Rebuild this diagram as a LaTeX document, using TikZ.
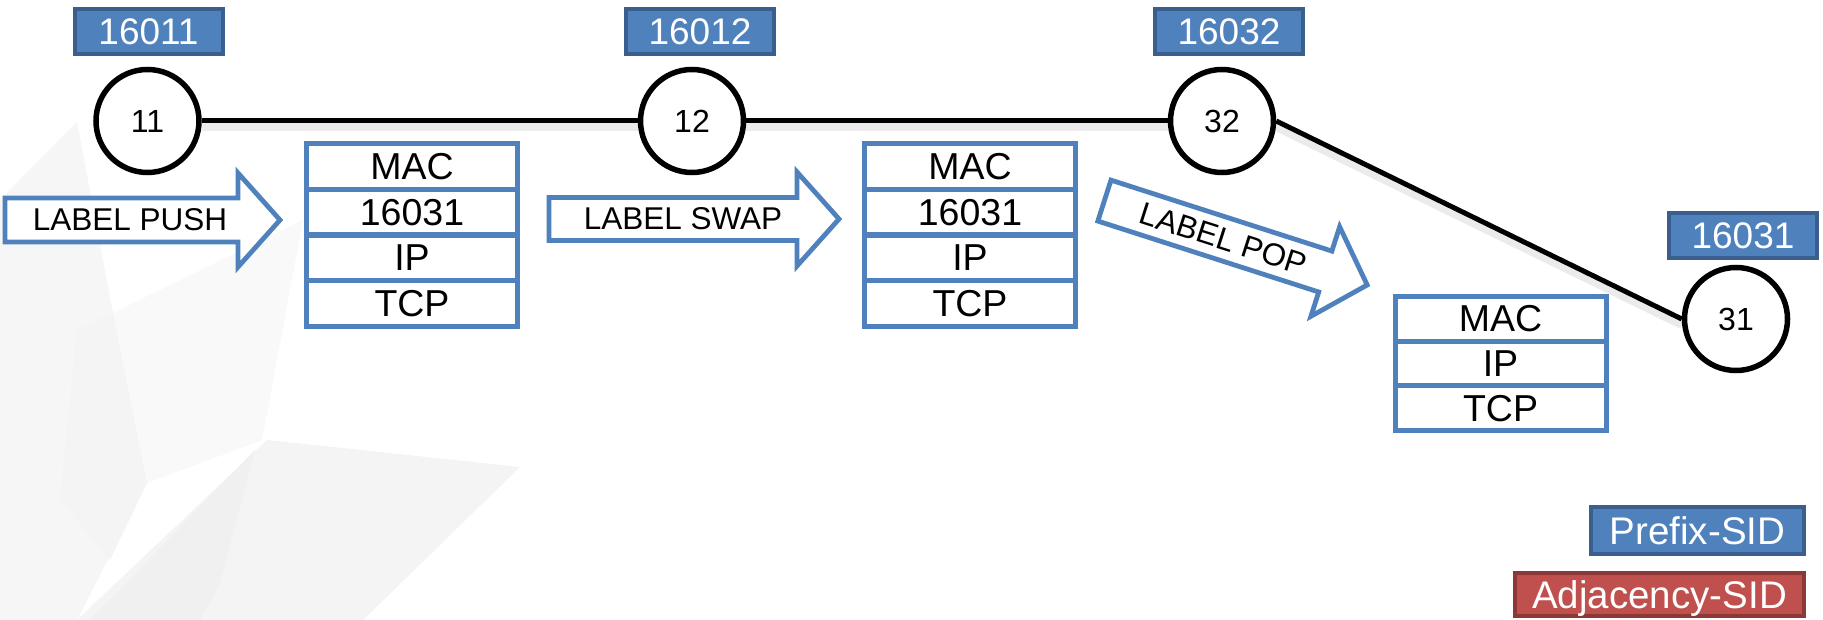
\documentclass[tikz,border=0pt]{standalone}
\usepackage{fontspec}
\setmainfont{Liberation Sans}
\usetikzlibrary{backgrounds}

\definecolor{sidblue}{HTML}{4F81BD}
\definecolor{sidedge}{HTML}{3A5F8E}
\definecolor{adjred}{HTML}{C0504D}
\definecolor{adjedge}{HTML}{8C3836}
\definecolor{hdrblue}{HTML}{4F81BD}

\begin{document}
\begin{tikzpicture}[x=1pt,y=-1pt,
  router/.style={circle,draw=black,line width=5.5pt,fill=white,minimum size=103pt,
    inner sep=0pt,font=\fontsize{32}{34}\selectfont},
  sidtag/.style={draw=sidedge,fill=sidblue,line width=4pt,text=white,inner sep=0pt,
    text depth=0pt,minimum width=148pt,minimum height=45pt,font=\fontsize{37}{40}\selectfont},
  legendbox/.style={line width=4pt,text=white,inner sep=0pt,text depth=0pt,
    font=\fontsize{38.5}{41}\selectfont},
  hdr/.style={draw=hdrblue,fill=white,line width=5pt,minimum width=211pt,inner sep=0pt,
    text depth=0pt,font=\fontsize{37.5}{40}\selectfont},
  link/.style={line width=5pt,black},
  linkshadow/.style={line width=8pt,black!8},
  pktarrow/.style={draw=hdrblue,fill=white,line width=4.8pt,line join=miter},
  arrowtext/.style={inner sep=0pt,text depth=0pt,font=\fontsize{31.5}{34}\selectfont}
]
\useasboundingbox (0,0) rectangle (1823,620);

% faint background facets
\begin{scope}[on background layer]
  \fill[white] (0,0) rectangle (1823,620);
  \fill[black!3.5] (0,200) -- (77,122) -- (113,313) -- (147,483) -- (77,620) -- (0,620) -- cycle;
  \fill[black!2.5] (113,313) -- (303,220) -- (262,440) -- (147,483) -- cycle;
  \fill[black!4.5] (77,330) -- (113,313) -- (147,483) -- (110,560) -- (60,500) -- cycle;
  \fill[black!4.5] (267,440) -- (520,467) -- (363,620) -- (77,620) -- cycle;
  \fill[black!6] (255,450) -- (220,583) -- (200,620) -- (90,620) -- cycle;
\end{scope}

% routers
\node[router] (r11) at (147.5,121) {11};
\node[router] (r12) at (692,121) {12};
\node[router] (r32) at (1222,121) {32};
\node[router] (r31) at (1736,319) {31};

% prefix SIDs
\node[sidtag] (p11) at (148.5,31.5) {16011};
\node[sidtag] (p12) at (700,31.5) {16012};
\node[sidtag] (p32) at (1229,31.5) {16032};
\node[sidtag] (p31) at (1743,235.5) {16031};

% links
\begin{scope}[on background layer]
  \draw[linkshadow] ([yshift=-6pt]r11.east) -- ([yshift=-6pt]r12.west);
  \draw[linkshadow] ([yshift=-6pt]r12.east) -- ([yshift=-6pt]r32.west);
  \draw[linkshadow] ([yshift=-6pt]r32.east) -- ([yshift=-6pt]r31.west);
  \draw[link] (r11) -- (r12);
  \draw[link] (r12) -- (r32);
  \draw[link] (r32.east) -- (r31.west);
\end{scope}

% packet headers after 11
\node[hdr,minimum height=45.75pt] (a1) at (412,166.4) {MAC};
\node[hdr,minimum height=45.75pt] (a2) at (412,212.1) {16031};
\node[hdr,minimum height=45.75pt] (a3) at (412,257.9) {IP};
\node[hdr,minimum height=45.75pt] (a4) at (412,303.6) {TCP};

% packet headers after 12
\node[hdr,minimum height=45.75pt] (b1) at (970,166.4) {MAC};
\node[hdr,minimum height=45.75pt] (b2) at (970,212.1) {16031};
\node[hdr,minimum height=45.75pt] (b3) at (970,257.9) {IP};
\node[hdr,minimum height=45.75pt] (b4) at (970,303.6) {TCP};

% packet headers after 32
\node[hdr,minimum height=44.7pt] (c1) at (1500.5,318.8) {MAC};
\node[hdr,minimum height=44.7pt] (c2) at (1500.5,363.5) {IP};
\node[hdr,minimum height=44.7pt] (c3) at (1500.5,408.2) {TCP};

% operation arrows
\draw[pktarrow] (5,198) -- (238,198) -- (238,173) -- (280,220) -- (238,267)
  -- (238,242) -- (5,242) -- cycle;
\node[arrowtext] (push) at (130,220) {LABEL PUSH};

\draw[pktarrow] (549,197.5) -- (797,197.5) -- (797,172) -- (839,219) -- (797,266)
  -- (797,240.5) -- (549,240.5) -- cycle;
\node[arrowtext] (swap) at (683,219) {LABEL SWAP};

\begin{scope}[shift={(1102.5,200)},rotate=-17.8]
  \draw[pktarrow] (2,-21.5) -- (234,-21.5) -- (234,-47) -- (278,0) -- (234,47)
    -- (234,21.5) -- (2,21.5) -- cycle;
  \node[arrowtext,rotate=-17.8] (pop) at (127,0) {LABEL POP};
\end{scope}

% legend
\node[legendbox,draw=sidedge,fill=sidblue,minimum width=213pt,minimum height=47pt]
  (lgp) at (1697.5,530.5) {Prefix-SID};
\node[legendbox,draw=adjedge,fill=adjred,minimum width=289pt,minimum height=43pt]
  (lga) at (1659.5,594.5) {Adjacency-SID};
\end{tikzpicture}
\end{document}
